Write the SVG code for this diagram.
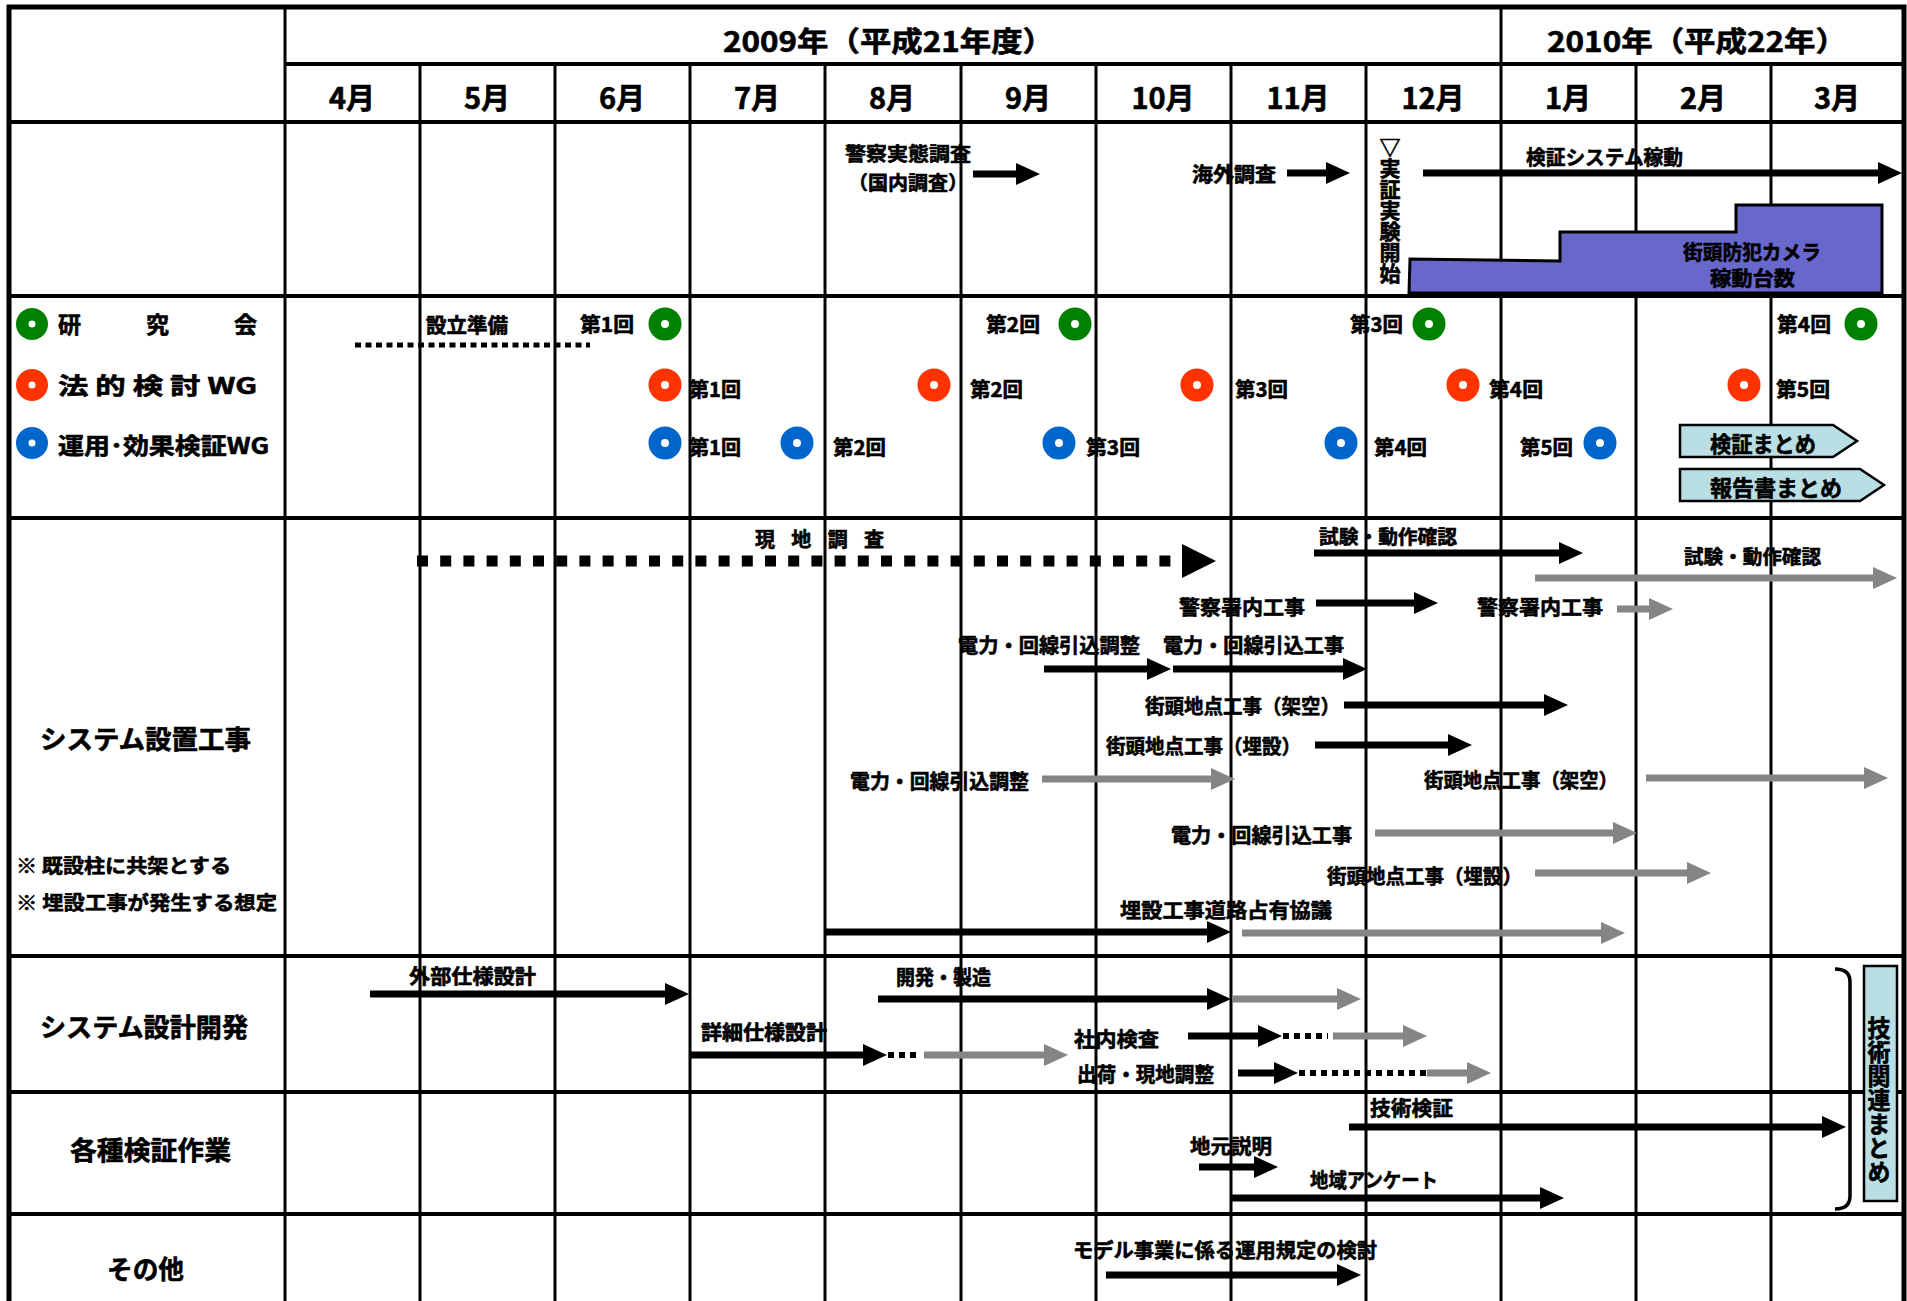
<svg xmlns="http://www.w3.org/2000/svg" width="1907" height="1301" viewBox="0 0 1907 1301">
<style>
.t{font-family:"Noto Sans CJK JP","Noto Sans CJK SC",sans-serif;font-weight:700;fill:#000;stroke:#000;stroke-width:0.6;dominant-baseline:central}
.hd{font-size:28px}
.mo{font-size:29px;text-anchor:middle}
.s20{font-size:20px}
.s19{font-size:19px}
.s22{font-size:22px}
.s23{font-size:23px}
.s26{font-size:26px}
.vt{writing-mode:vertical-rl;text-orientation:upright}
.gh{stroke:#000;stroke-width:4}
.gv{stroke:#000;stroke-width:3}
.ab{stroke:#000;stroke-width:7;marker-end:url(#hb)}
.ag{stroke:#858585;stroke-width:7;marker-end:url(#hg)}
.dk{stroke:#000;stroke-width:6;stroke-dasharray:6 5}
.dn{fill:none;stroke-width:12.5}
.gr{stroke:#008000}
.rd{stroke:#FF3300}
.bl{stroke:#0066CC}
.cy{fill:#B9DFE4;stroke:#000;stroke-width:2.5}
</style>
<defs>
<marker id="hb" markerUnits="userSpaceOnUse" markerWidth="24" markerHeight="24" viewBox="0 0 24 24" refX="0" refY="12" orient="auto"><path d="M0,1 L24,12 L0,23 z" fill="#000"/></marker>
<marker id="hg" markerUnits="userSpaceOnUse" markerWidth="24" markerHeight="24" viewBox="0 0 24 24" refX="0" refY="12" orient="auto"><path d="M0,1 L24,12 L0,23 z" fill="#858585"/></marker>
<marker id="hbig" markerUnits="userSpaceOnUse" markerWidth="34" markerHeight="34" viewBox="0 0 34 34" refX="0" refY="17" orient="auto"><path d="M0,0 L34,17 L0,34 z" fill="#000"/></marker>
</defs>
<rect x="0" y="0" width="1907" height="1301" fill="#fff"/>

<g id="grid">
<line class="gh" x1="285" y1="64" x2="1904" y2="64"/>
<line class="gh" x1="9" y1="122" x2="1904" y2="122"/>
<line class="gh" x1="9" y1="296" x2="1904" y2="296"/>
<line class="gh" x1="9" y1="518" x2="1904" y2="518"/>
<line class="gh" x1="9" y1="956" x2="1904" y2="956"/>
<line class="gh" x1="9" y1="1092" x2="1904" y2="1092"/>
<line class="gh" x1="9" y1="1214" x2="1904" y2="1214"/>
<line class="gv" x1="285" y1="7" x2="285" y2="1301"/>
<line class="gv" x1="420" y1="64" x2="420" y2="1301"/>
<line class="gv" x1="555" y1="64" x2="555" y2="1301"/>
<line class="gv" x1="690" y1="64" x2="690" y2="1301"/>
<line class="gv" x1="825" y1="64" x2="825" y2="1301"/>
<line class="gv" x1="961" y1="64" x2="961" y2="1301"/>
<line class="gv" x1="1096" y1="64" x2="1096" y2="1301"/>
<line class="gv" x1="1231" y1="64" x2="1231" y2="1301"/>
<line class="gv" x1="1366" y1="64" x2="1366" y2="1301"/>
<line class="gv" x1="1501" y1="7" x2="1501" y2="1301"/>
<line class="gv" x1="1636" y1="64" x2="1636" y2="1301"/>
<line class="gv" x1="1771" y1="64" x2="1771" y2="1301"/>
<rect x="9" y="7" width="1895" height="1310" fill="none" stroke="#000" stroke-width="5"/>
</g>

<g id="header">
<text class="t hd" x="723" y="40" textLength="331" lengthAdjust="spacingAndGlyphs">2009年（平成21年度）</text>
<text class="t hd" x="1547" y="40" textLength="300" lengthAdjust="spacingAndGlyphs">2010年（平成22年）</text>
<text class="t mo" x="352" y="96">4月</text>
<text class="t mo" x="487" y="96">5月</text>
<text class="t mo" x="622" y="96">6月</text>
<text class="t mo" x="757" y="96">7月</text>
<text class="t mo" x="892" y="96">8月</text>
<text class="t mo" x="1028" y="96">9月</text>
<text class="t mo" x="1163" y="96">10月</text>
<text class="t mo" x="1298" y="96">11月</text>
<text class="t mo" x="1433" y="96">12月</text>
<text class="t mo" x="1568" y="96">1月</text>
<text class="t mo" x="1703" y="96">2月</text>
<text class="t mo" x="1837" y="96">3月</text>
</g>

<g id="cameras">
<polygon points="1409,293 1410,259 1560,261 1560,232 1736,232 1736,205 1882,205 1882,293" fill="#6868CC" stroke="#000" stroke-width="3" stroke-linejoin="miter"/>
<text class="t s20" x="1683" y="251" textLength="138" lengthAdjust="spacingAndGlyphs">街頭防犯カメラ</text>
<text class="t s20" x="1710" y="277" textLength="85" lengthAdjust="spacingAndGlyphs">稼動台数</text>
</g>
<g id="survey-domestic">
<text class="t s19"><tspan x="845" y="152" textLength="126" lengthAdjust="spacingAndGlyphs">警察実態調査</tspan><tspan x="848" y="181" textLength="120" lengthAdjust="spacingAndGlyphs">（国内調査）</tspan></text>
</g>
<g id="survey-overseas"><text class="t s20" x="1192" y="173" textLength="84" lengthAdjust="spacingAndGlyphs">海外調査</text></g>
<g id="trial-start"><text class="t vt" x="1390" y="137" font-size="21" textLength="147" lengthAdjust="spacingAndGlyphs">▽実証実験開始</text></g>
<g id="system-operation"><text class="t s20" x="1526" y="156" textLength="157" lengthAdjust="spacingAndGlyphs">検証システム稼動</text></g>

<g id="legend">
<circle class="dn gr" cx="32" cy="324" r="9.75"/>
<text class="t s23" x="58" y="323" textLength="199" lengthAdjust="spacing">研究会</text>
<circle class="dn rd" cx="32" cy="385" r="9.75"/>
<text class="t s23" x="58" y="384" textLength="199" lengthAdjust="spacingAndGlyphs">法 的 検 討 WG</text>
<circle class="dn bl" cx="32" cy="443" r="9.75"/>
<text class="t s23" x="58" y="444" textLength="211" lengthAdjust="spacingAndGlyphs">運用･効果検証WG</text>
</g>

<g id="kenkyukai">
<text class="t s20" x="426" y="324" textLength="82" lengthAdjust="spacingAndGlyphs">設立準備</text>
<text class="t s20" x="580" y="323" textLength="54" lengthAdjust="spacingAndGlyphs">第1回</text>
<circle class="dn gr" cx="665" cy="324" r="10.25"/>
<text class="t s20" x="986" y="323" textLength="54" lengthAdjust="spacingAndGlyphs">第2回</text>
<circle class="dn gr" cx="1075" cy="324" r="10.25"/>
<text class="t s20" x="1350" y="323" textLength="53" lengthAdjust="spacingAndGlyphs">第3回</text>
<circle class="dn gr" cx="1429" cy="324" r="10.25"/>
<text class="t s20" x="1777" y="323" textLength="54" lengthAdjust="spacingAndGlyphs">第4回</text>
<circle class="dn gr" cx="1861" cy="324" r="10.25"/>
</g>
<g id="legal-wg">
<circle class="dn rd" cx="665" cy="385" r="10.25"/>
<text class="t s20" x="689" y="388" textLength="52" lengthAdjust="spacingAndGlyphs">第1回</text>
<circle class="dn rd" cx="934" cy="385" r="10.25"/>
<text class="t s20" x="970" y="388" textLength="53" lengthAdjust="spacingAndGlyphs">第2回</text>
<circle class="dn rd" cx="1197" cy="385" r="10.25"/>
<text class="t s20" x="1235" y="388" textLength="53" lengthAdjust="spacingAndGlyphs">第3回</text>
<circle class="dn rd" cx="1463" cy="385" r="10.25"/>
<text class="t s20" x="1489" y="388" textLength="54" lengthAdjust="spacingAndGlyphs">第4回</text>
<circle class="dn rd" cx="1744" cy="385" r="10.25"/>
<text class="t s20" x="1776" y="388" textLength="54" lengthAdjust="spacingAndGlyphs">第5回</text>
</g>
<g id="ops-wg">
<circle class="dn bl" cx="665" cy="443" r="10.25"/>
<text class="t s20" x="689" y="446" textLength="52" lengthAdjust="spacingAndGlyphs">第1回</text>
<circle class="dn bl" cx="797" cy="443" r="10.25"/>
<text class="t s20" x="833" y="446" textLength="53" lengthAdjust="spacingAndGlyphs">第2回</text>
<circle class="dn bl" cx="1059" cy="443" r="10.25"/>
<text class="t s20" x="1086" y="446" textLength="54" lengthAdjust="spacingAndGlyphs">第3回</text>
<circle class="dn bl" cx="1341" cy="443" r="10.25"/>
<text class="t s20" x="1374" y="446" textLength="53" lengthAdjust="spacingAndGlyphs">第4回</text>
<text class="t s20" x="1520" y="446" textLength="53" lengthAdjust="spacingAndGlyphs">第5回</text>
<circle class="dn bl" cx="1600" cy="443" r="10.25"/>
</g>
<g id="verify-summary">
<polygon class="cy" points="1680,425 1833,425 1857,441 1833,457 1680,457"/>
<text class="t s22" x="1710" y="442" textLength="106" lengthAdjust="spacingAndGlyphs">検証まとめ</text>
</g>
<g id="report-summary">
<polygon class="cy" points="1680,469 1860,469 1884,485 1860,501 1680,501"/>
<text class="t s22" x="1710" y="486" textLength="132" lengthAdjust="spacingAndGlyphs">報告書まとめ</text>
</g>

<g id="install-label">
<text class="t s26" x="40" y="737" textLength="211" lengthAdjust="spacingAndGlyphs">システム設置工事</text>
<text class="t s19" x="16" y="864" textLength="215" lengthAdjust="spacingAndGlyphs">※ 既設柱に共架とする</text>
<text class="t s19" x="16" y="901" textLength="261" lengthAdjust="spacingAndGlyphs">※ 埋設工事が発生する想定</text>
</g>
<g id="site-survey"><text class="t s20" x="755" y="538" textLength="129" lengthAdjust="spacing">現地調査</text></g>
<g id="test1"><text class="t s19" x="1319" y="535" textLength="138" lengthAdjust="spacingAndGlyphs">試験・動作確認</text></g>
<g id="test2"><text class="t s19" x="1684" y="555" textLength="137" lengthAdjust="spacingAndGlyphs">試験・動作確認</text></g>
<g id="police1"><text class="t s20" x="1179" y="606" textLength="126" lengthAdjust="spacingAndGlyphs">警察署内工事</text></g>
<g id="police2"><text class="t s20" x="1477" y="606" textLength="126" lengthAdjust="spacingAndGlyphs">警察署内工事</text></g>
<g id="power-adj1"><text class="t s20" x="958" y="644" textLength="182" lengthAdjust="spacingAndGlyphs">電力・回線引込調整</text></g>
<g id="power-work1"><text class="t s20" x="1163" y="644" textLength="181" lengthAdjust="spacingAndGlyphs">電力・回線引込工事</text></g>
<g id="street-air1"><text class="t s20" x="1145" y="705" textLength="195" lengthAdjust="spacingAndGlyphs">街頭地点工事（架空）</text></g>
<g id="street-bur1"><text class="t s20" x="1106" y="745" textLength="195" lengthAdjust="spacingAndGlyphs">街頭地点工事（埋設）</text></g>
<g id="power-adj2"><text class="t s20" x="850" y="780" textLength="179" lengthAdjust="spacingAndGlyphs">電力・回線引込調整</text></g>
<g id="street-air2"><text class="t s20" x="1424" y="779" textLength="194" lengthAdjust="spacingAndGlyphs">街頭地点工事（架空）</text></g>
<g id="power-work2"><text class="t s20" x="1171" y="834" textLength="181" lengthAdjust="spacingAndGlyphs">電力・回線引込工事</text></g>
<g id="street-bur2"><text class="t s20" x="1327" y="875" textLength="195" lengthAdjust="spacingAndGlyphs">街頭地点工事（埋設）</text></g>
<g id="road-use"><text class="t s20" x="1120" y="909" textLength="212" lengthAdjust="spacingAndGlyphs">埋設工事道路占有協議</text></g>

<g id="design-label"><text class="t s26" x="40" y="1025" textLength="208" lengthAdjust="spacingAndGlyphs">システム設計開発</text></g>
<g id="ext-spec"><text class="t s20" x="409" y="975" textLength="127" lengthAdjust="spacingAndGlyphs">外部仕様設計</text></g>
<g id="dev"><text class="t s20" x="896" y="976" textLength="95" lengthAdjust="spacingAndGlyphs">開発・製造</text></g>
<g id="detail-spec"><text class="t s20" x="701" y="1031" textLength="126" lengthAdjust="spacingAndGlyphs">詳細仕様設計</text></g>
<g id="inspection"><text class="t s20" x="1074" y="1038" textLength="85" lengthAdjust="spacingAndGlyphs">社内検査</text></g>
<g id="shipping"><text class="t s20" x="1077" y="1073" textLength="137" lengthAdjust="spacingAndGlyphs">出荷・現地調整</text></g>
<g id="tech-summary">
<path d="M1835,969 Q1850,969 1850,982 L1850,1196 Q1850,1209 1835,1209" fill="none" stroke="#000" stroke-width="3.5"/>
<rect class="cy" x="1864" y="966" width="33" height="235"/>
<text class="t vt" x="1879" y="1016" font-size="23" textLength="168" lengthAdjust="spacingAndGlyphs">技術関連まとめ</text>
</g>

<g id="verify-label"><text class="t s26" x="70" y="1148" textLength="161" lengthAdjust="spacingAndGlyphs">各種検証作業</text></g>
<g id="tech-verify"><text class="t s20" x="1370" y="1107" textLength="83" lengthAdjust="spacingAndGlyphs">技術検証</text></g>
<g id="local-explain"><text class="t s20" x="1190" y="1145" textLength="82" lengthAdjust="spacingAndGlyphs">地元説明</text></g>
<g id="survey-area"><text class="t s20" x="1310" y="1179" textLength="128" lengthAdjust="spacingAndGlyphs">地域アンケート</text></g>

<g id="other-label"><text class="t s26" x="107" y="1267" textLength="77" lengthAdjust="spacingAndGlyphs">その他</text></g>
<g id="rules"><text class="t s20" x="1073" y="1249" textLength="304" lengthAdjust="spacingAndGlyphs">モデル事業に係る運用規定の検討</text></g>

<g id="connectors">
<line class="ab" x1="973" y1="174" x2="1016" y2="174"/>
<line class="ab" x1="1287" y1="173" x2="1326" y2="173"/>
<line class="ab" x1="1423" y1="173" x2="1878" y2="173"/>
<line x1="355" y1="345" x2="590" y2="345" stroke="#000" stroke-width="5" stroke-dasharray="6 4.5"/>
<line x1="417" y1="561" x2="1182" y2="561" stroke="#000" stroke-width="11" stroke-dasharray="11 12.2" marker-end="url(#hbig)"/>
<line class="ab" x1="1314" y1="553" x2="1559" y2="553"/>
<line class="ag" x1="1535" y1="578" x2="1873" y2="578"/>
<line class="ab" x1="1316" y1="603" x2="1414" y2="603"/>
<line class="ag" x1="1617" y1="609" x2="1649" y2="609"/>
<line class="ab" x1="1044" y1="669" x2="1147" y2="669"/>
<line class="ab" x1="1173" y1="669" x2="1343" y2="669"/>
<line class="ab" x1="1344" y1="705" x2="1544" y2="705"/>
<line class="ab" x1="1315" y1="745" x2="1448" y2="745"/>
<line class="ag" x1="1042" y1="779" x2="1211" y2="779"/>
<line class="ag" x1="1646" y1="778" x2="1864" y2="778"/>
<line class="ag" x1="1375" y1="833" x2="1613" y2="833"/>
<line class="ag" x1="1535" y1="873" x2="1687" y2="873"/>
<line class="ab" x1="826" y1="932" x2="1207" y2="932"/>
<line class="ag" x1="1242" y1="933" x2="1601" y2="933"/>
<line class="ab" x1="370" y1="994" x2="665" y2="994"/>
<line class="ab" x1="878" y1="999" x2="1207" y2="999"/>
<line class="ag" x1="1233" y1="999" x2="1337" y2="999"/>
<line class="ab" x1="690" y1="1055" x2="863" y2="1055"/>
<line class="dk" x1="888" y1="1055" x2="918" y2="1055"/>
<line class="ag" x1="924" y1="1055" x2="1044" y2="1055"/>
<line class="ab" x1="1188" y1="1036" x2="1258" y2="1036"/>
<line class="dk" x1="1283" y1="1036" x2="1328" y2="1036"/>
<line class="ag" x1="1333" y1="1036" x2="1403" y2="1036"/>
<line class="ab" x1="1238" y1="1073" x2="1274" y2="1073"/>
<line class="dk" x1="1299" y1="1073" x2="1427" y2="1073"/>
<line class="ag" x1="1427" y1="1073" x2="1467" y2="1073"/>
<line class="ab" x1="1349" y1="1127" x2="1822" y2="1127"/>
<line class="ab" x1="1199" y1="1167" x2="1254" y2="1167"/>
<line class="ab" x1="1232" y1="1198" x2="1540" y2="1198"/>
<line class="ab" x1="1106" y1="1275" x2="1337" y2="1275"/>
</g>
</svg>
